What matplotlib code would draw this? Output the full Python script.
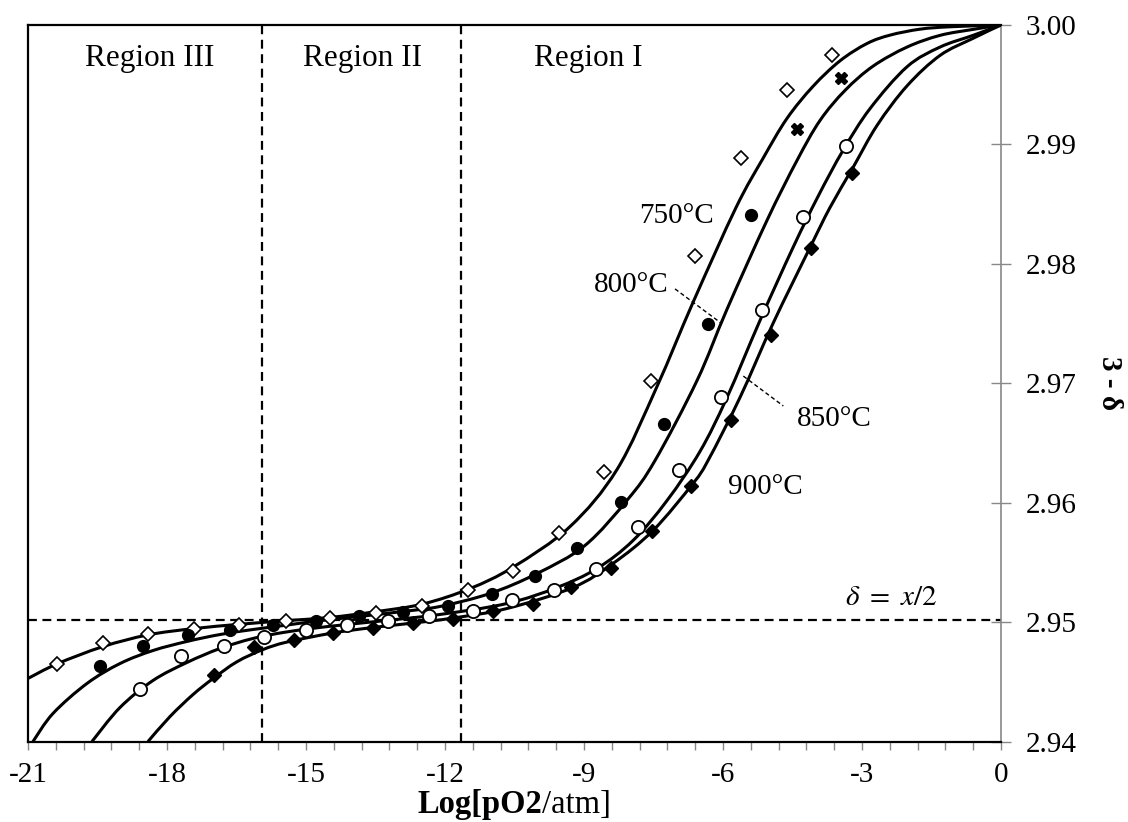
import matplotlib
matplotlib.use("Agg")
import matplotlib.pyplot as plt
import numpy as np
from matplotlib.path import Path
from matplotlib.patches import PathPatch
from matplotlib.ticker import MultipleLocator, FormatStrFormatter

plt.rcParams['font.family'] = 'serif'
plt.rcParams['font.serif'] = ['Liberation Serif', 'DejaVu Serif']
plt.rcParams['mathtext.fontset'] = 'stix'
plt.rcParams['axes.unicode_minus'] = False

# measured oxygen content, 3 - delta vs log pO2
logp_750 = [-20.38, -19.39, -18.42, -17.42, -16.44, -15.44, -14.49, -13.48, -12.49,
            -11.50, -10.53, -9.53, -8.56, -7.56, -6.60, -5.61, -4.61, -3.64]
ox_750 = [2.94651, 2.94827, 2.94902, 2.94941, 2.94977, 2.95011, 2.95033, 2.95078, 2.95137,
          2.95270, 2.95432, 2.95748, 2.96261, 2.97023, 2.98062, 2.98889, 2.99458, 2.99751]

logp_800 = [-19.45, -18.51, -17.55, -16.64, -15.71, -14.78, -13.85, -12.90, -11.93,
            -10.99, -10.06, -9.14, -8.21, -7.27, -6.33, -5.39]
ox_800 = [2.94631, 2.94798, 2.94894, 2.94936, 2.94972, 2.95011, 2.95047, 2.95086, 2.95139,
          2.95237, 2.95382, 2.95619, 2.96002, 2.96661, 2.97498, 2.98411]
# last two 800C readings were plotted with a cross marker
logp_800_x = [-4.41, -3.46]
ox_800_x = [2.99131, 2.99559]

logp_850 = [-18.58, -17.70, -16.78, -15.90, -15.00, -14.12, -13.22, -12.34, -11.39,
            -10.56, -9.64, -8.75, -7.84, -6.96, -6.04, -5.16, -4.27, -3.35]
ox_850 = [2.94441, 2.94714, 2.94804, 2.94874, 2.94938, 2.94977, 2.95013, 2.95047, 2.95097,
          2.95181, 2.95271, 2.95446, 2.95795, 2.96270, 2.96884, 2.97616, 2.98391, 2.98986]

logp_900 = [-16.99, -16.12, -15.26, -14.41, -13.55, -12.68, -11.83, -10.96, -10.09,
            -9.27, -8.42, -7.53, -6.69, -5.83, -4.97, -4.11, -3.22]
ox_900 = [2.94553, 2.94790, 2.94854, 2.94910, 2.94952, 2.94994, 2.95028, 2.95089, 2.95153,
          2.95292, 2.95455, 2.95761, 2.96136, 2.96694, 2.97400, 2.98131, 2.98763]

# defect model fits
fit_x_750 = [-21.0, -20.374, -19.381, -18.410, -17.439, -16.424, -15.410, -14.482, -13.467,
             -12.474, -11.460, -10.532, -9.301, -8.287, -7.424, -6.647, -5.718, -5.136,
             -4.618, -4.057, -3.474, -2.891, -2.395, -1.747, -1.100, 0.0]
fit_y_750 = [2.94528, 2.94650, 2.94795, 2.94893, 2.94945, 2.94982, 2.95013, 2.95039, 2.95089,
             2.95152, 2.95281, 2.95460, 2.95800, 2.96278, 2.96973, 2.97677, 2.98472, 2.98883,
             2.99218, 2.99486, 2.99700, 2.99845, 2.99915, 2.99965, 2.99985, 3.0]

fit_x_800 = [-20.892, -20.460, -19.727, -19.014, -18.302, -17.568, -16.856, -16.144, -15.410,
             -14.784, -13.856, -12.906, -12.107, -11.028, -10.014, -8.978, -8.050, -7.467,
             -6.560, -5.913, -5.050, -4.402, -3.905, -3.366, -2.762, -2.028, -1.316, -0.604, 0.0]
fit_y_800 = [2.94000, 2.94235, 2.94486, 2.94653, 2.94762, 2.94838, 2.94896, 2.94938, 2.94975,
             2.95008, 2.95047, 2.95089, 2.95131, 2.95240, 2.95407, 2.95642, 2.96030, 2.96353,
             2.97023, 2.97620, 2.98364, 2.98866, 2.99201, 2.99452, 2.99655, 2.99815, 2.99913,
             2.99963, 3.0]

fit_x_850 = [-19.619, -19.014, -18.302, -17.568, -16.856, -16.144, -15.410, -14.482, -13.230,
             -12.107, -10.661, -9.582, -8.719, -7.942, -7.208, -6.495, -5.913, -5.201,
             -4.488, -3.949, -3.409, -2.826, -2.028, -1.316, -0.604, 0.0]
fit_y_850 = [2.94000, 2.94285, 2.94511, 2.94662, 2.94779, 2.94863, 2.94918, 2.94965, 2.95015,
             2.95064, 2.95156, 2.95290, 2.95449, 2.95683, 2.96018, 2.96430, 2.96881, 2.97526,
             2.98137, 2.98564, 2.98950, 2.99300, 2.99650, 2.99815, 2.99913, 3.0]

fit_x_900 = [-18.410, -17.935, -17.439, -17.007, -16.489, -15.928, -15.410, -14.417, -13.553,
             -12.690, -11.827, -10.661, -9.237, -8.374, -7.510, -6.647, -6.323, -5.633,
             -4.920, -4.121, -3.690, -3.193, -2.675, -2.028, -1.316, -0.604, 0.0]
fit_y_900 = [2.94000, 2.94209, 2.94393, 2.94527, 2.94668, 2.94770, 2.94833, 2.94909, 2.94955,
             2.94992, 2.95034, 2.95114, 2.95290, 2.95491, 2.95767, 2.96161, 2.96353, 2.96881,
             2.97501, 2.98137, 2.98472, 2.98807, 2.99159, 2.99490, 2.99745, 2.99888, 3.0]

region_bounds = [-15.94, -11.65]
plateau = 2.9502
region_names = ['Region III', 'Region II', 'Region I']


def smooth_path(xs, ys):
    # Catmull-Rom through the points, written as cubic Bezier segments
    p = np.column_stack([xs, ys])
    ext = np.vstack([p[0], p, p[-1]])
    verts = [p[0]]
    codes = [Path.MOVETO]
    for i in range(1, len(ext) - 2):
        c1 = ext[i] + (ext[i + 1] - ext[i - 1]) / 6.0
        c2 = ext[i + 1] - (ext[i + 2] - ext[i]) / 6.0
        verts += [c1, c2, ext[i + 1]]
        codes += [Path.CURVE4] * 3
    return Path(verts, codes)


fig = plt.figure(figsize=(11.28, 8.22), dpi=100)
ax = fig.add_axes([0.0248, 0.0979, 0.8626, 0.8717])

for fx, fy in [(fit_x_750, fit_y_750), (fit_x_800, fit_y_800),
               (fit_x_850, fit_y_850), (fit_x_900, fit_y_900)]:
    ax.add_patch(PathPatch(smooth_path(fx, fy), facecolor='none', edgecolor='black',
                           lw=2.2, zorder=3))

ax.plot(logp_750, ox_750, ls='none', marker='D', ms=7.2, mfc='white', mec='black', mew=1.2, zorder=4)
ax.plot(logp_800, ox_800, ls='none', marker='o', ms=8.5, mfc='black', mec='black', zorder=4)
ax.plot(logp_800_x, ox_800_x, ls='none', marker='X', ms=8, mfc='black', mec='black', zorder=4)
ax.plot(logp_850, ox_850, ls='none', marker='o', ms=9.5, mfc='white', mec='black', mew=1.3, zorder=4)
ax.plot(logp_900, ox_900, ls='none', marker='D', ms=7, mfc='black', mec='black', zorder=4)

# region boundaries and the delta = x/2 plateau
for xb in region_bounds:
    ax.axvline(xb, color='black', lw=1.6, dashes=(4, 2.5), zorder=2)
ax.axhline(plateau, color='black', lw=1.6, dashes=(4, 2.5), zorder=2)

ax.set_xlim(-21, 0)
ax.set_ylim(2.94, 3.00)

ax.xaxis.set_major_locator(MultipleLocator(3))
ax.xaxis.set_minor_locator(MultipleLocator(0.6))
ax.yaxis.set_major_locator(MultipleLocator(0.01))
ax.yaxis.set_major_formatter(FormatStrFormatter('%.2f'))
ax.yaxis.tick_right()

ax.tick_params(axis='x', which='both', direction='out', length=6, width=1,
               color='#888888', labelsize=21, pad=9)
ax.tick_params(axis='y', which='major', direction='inout', length=14, width=1,
               color='#888888', labelsize=21, pad=11)

for side in ['left', 'top', 'bottom']:
    ax.spines[side].set_color('black')
    ax.spines[side].set_linewidth(1.6)
ax.spines['right'].set_color('#888888')
ax.spines['right'].set_linewidth(1.2)

# annotations
for name, xr in zip(region_names, [-18.37, -13.79, -8.91]):
    ax.text(xr, 2.9972, name, ha='center', va='center', fontsize=22.5)

ax.text(-7.00, 2.9840, '750°C', ha='center', va='center', fontsize=21)
ax.text(-7.97, 2.9782, '800°C', ha='center', va='center', fontsize=21)
ax.text(-3.60, 2.9670, '850°C', ha='center', va='center', fontsize=21)
ax.text(-5.08, 2.9613, '900°C', ha='center', va='center', fontsize=21)
ax.plot([-7.035, -6.027], [2.9779, 2.9750], color='black', lw=1, dashes=(3, 2))
ax.plot([-5.561, -4.698], [2.9706, 2.9681], color='black', lw=1, dashes=(3, 2))

ax.text(-2.37, 2.9520, r'$\delta\ =\ x/2$', ha='center', va='center', fontsize=21)

# axis titles
fig.text(0.984, 0.534, '3 - δ', rotation=270, ha='center', va='center',
         fontsize=21, fontweight='bold')

xl_bold = fig.text(0.5, 0.003, 'Log[pO2', ha='left', va='bottom', fontsize=23.5, fontweight='bold')
xl_norm = fig.text(0.5, 0.003, '/atm]', ha='left', va='bottom', fontsize=23.5)
fig.canvas.draw()
rend = fig.canvas.get_renderer()
wb = xl_bold.get_window_extent(rend).width
wn = xl_norm.get_window_extent(rend).width
center_px = (0.0248 + 0.8626 / 2) * fig.bbox.width
left_px = center_px - (wb + wn) / 2
xl_bold.set_x(left_px / fig.bbox.width)
xl_norm.set_x((left_px + wb) / fig.bbox.width)

fig.savefig('out.png', dpi=100)
